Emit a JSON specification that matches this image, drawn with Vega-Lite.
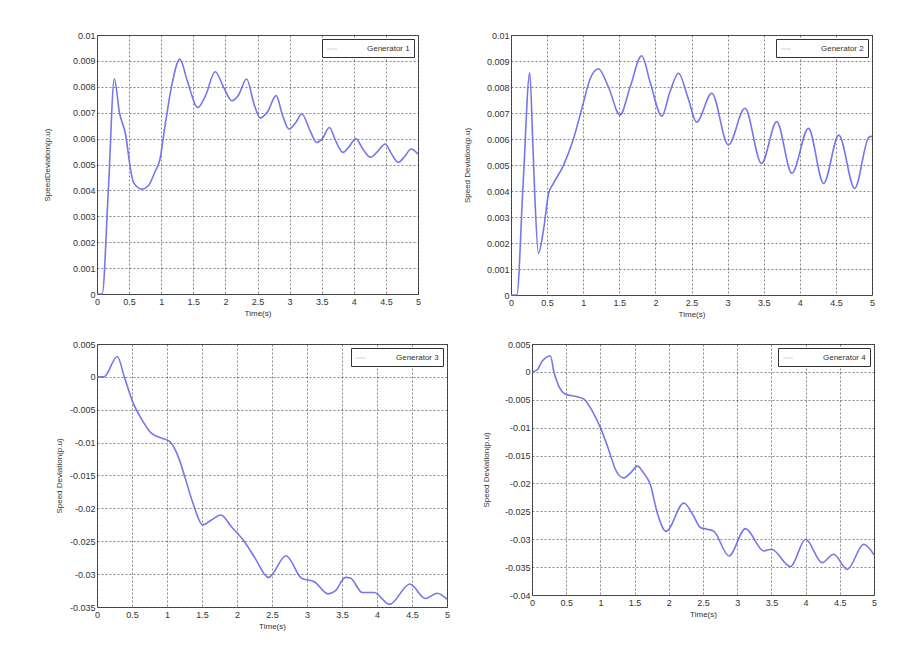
{
  "$schema": "https://vega.github.io/schema/vega-lite/v6.json",
  "background": "white",
  "padding": {"left": 43, "top": 30, "right": 0, "bottom": 0},
  "config": {
    "font": "Liberation Sans",
    "view": {"stroke": "#555", "strokeWidth": 1},
    "axis": {
      "domain": false, "ticks": false, "grid": true,
      "gridDash": [2, 2], "gridColor": "#222", "gridOpacity": 0.55, "gridWidth": 1,
      "labelFontSize": 9, "labelColor": "#333", "labelFont": "Liberation Sans",
      "titleFontSize": 8, "titleFontWeight": "normal", "titleColor": "#333", "titleFont": "Liberation Sans"
    },
    "axisX": {"labelPadding": 3, "titlePadding": 3, "labelFlush": false},
    "axisY": {"labelPadding": 2},
    "legend": {
      "orient": "top-right", "offset": 4, "fillColor": "white", "strokeColor": "#333",
      "padding": 4, "labelFontSize": 8, "labelColor": "#333", "symbolType": "stroke",
      "symbolSize": 100, "symbolStrokeWidth": 1, "labelOffset": 29, "title": null,
      "symbolOpacity": 0.2
    },
    "line": {"interpolate": "monotone", "strokeWidth": 1.6, "opacity": 0.9}
  },
  "data": {"values": [
    {"g":"Generator 1","t":0,"v":0},{"g":"Generator 1","t":0.08,"v":0},{"g":"Generator 1","t":0.18,"v":0.0042},{"g":"Generator 1","t":0.27,"v":0.0083},{"g":"Generator 1","t":0.35,"v":0.007},{"g":"Generator 1","t":0.45,"v":0.0061},{"g":"Generator 1","t":0.52,"v":0.00485},{"g":"Generator 1","t":0.57,"v":0.0043},{"g":"Generator 1","t":0.7,"v":0.00405},{"g":"Generator 1","t":0.8,"v":0.00418},{"g":"Generator 1","t":0.9,"v":0.0047},{"g":"Generator 1","t":0.98,"v":0.0052},{"g":"Generator 1","t":1.06,"v":0.0065},{"g":"Generator 1","t":1.16,"v":0.008},{"g":"Generator 1","t":1.29,"v":0.00907},{"g":"Generator 1","t":1.41,"v":0.0082},{"g":"Generator 1","t":1.57,"v":0.0072},{"g":"Generator 1","t":1.69,"v":0.00765},{"g":"Generator 1","t":1.84,"v":0.00858},{"g":"Generator 1","t":1.97,"v":0.008},{"g":"Generator 1","t":2.1,"v":0.00746},{"g":"Generator 1","t":2.2,"v":0.00766},{"g":"Generator 1","t":2.33,"v":0.0083},{"g":"Generator 1","t":2.45,"v":0.0073},{"g":"Generator 1","t":2.54,"v":0.0068},{"g":"Generator 1","t":2.66,"v":0.00705},{"g":"Generator 1","t":2.79,"v":0.00766},{"g":"Generator 1","t":2.89,"v":0.0069},{"g":"Generator 1","t":2.99,"v":0.00637},{"g":"Generator 1","t":3.09,"v":0.0066},{"g":"Generator 1","t":3.19,"v":0.00695},{"g":"Generator 1","t":3.32,"v":0.0063},{"g":"Generator 1","t":3.42,"v":0.00585},{"g":"Generator 1","t":3.51,"v":0.006},{"g":"Generator 1","t":3.62,"v":0.00643},{"g":"Generator 1","t":3.72,"v":0.0059},{"g":"Generator 1","t":3.83,"v":0.00547},{"g":"Generator 1","t":3.93,"v":0.0057},{"g":"Generator 1","t":4.03,"v":0.006},{"g":"Generator 1","t":4.14,"v":0.0056},{"g":"Generator 1","t":4.26,"v":0.00528},{"g":"Generator 1","t":4.37,"v":0.0055},{"g":"Generator 1","t":4.49,"v":0.00579},{"g":"Generator 1","t":4.59,"v":0.0054},{"g":"Generator 1","t":4.69,"v":0.00508},{"g":"Generator 1","t":4.79,"v":0.0053},{"g":"Generator 1","t":4.89,"v":0.0056},{"g":"Generator 1","t":5,"v":0.0054},
    {"g":"Generator 2","t":0,"v":0},{"g":"Generator 2","t":0.08,"v":0},{"g":"Generator 2","t":0.17,"v":0.0044},{"g":"Generator 2","t":0.26,"v":0.00855},{"g":"Generator 2","t":0.3,"v":0.006},{"g":"Generator 2","t":0.33,"v":0.0038},{"g":"Generator 2","t":0.38,"v":0.0016},{"g":"Generator 2","t":0.45,"v":0.0025},{"g":"Generator 2","t":0.52,"v":0.0039},{"g":"Generator 2","t":0.59,"v":0.0043},{"g":"Generator 2","t":0.72,"v":0.00495},{"g":"Generator 2","t":0.86,"v":0.00596},{"g":"Generator 2","t":1,"v":0.00737},{"g":"Generator 2","t":1.09,"v":0.00827},{"g":"Generator 2","t":1.21,"v":0.0087},{"g":"Generator 2","t":1.35,"v":0.008},{"g":"Generator 2","t":1.51,"v":0.00692},{"g":"Generator 2","t":1.65,"v":0.008},{"g":"Generator 2","t":1.81,"v":0.0092},{"g":"Generator 2","t":1.93,"v":0.00815},{"g":"Generator 2","t":2.09,"v":0.00688},{"g":"Generator 2","t":2.2,"v":0.0078},{"g":"Generator 2","t":2.32,"v":0.00853},{"g":"Generator 2","t":2.45,"v":0.0076},{"g":"Generator 2","t":2.57,"v":0.00665},{"g":"Generator 2","t":2.78,"v":0.00776},{"g":"Generator 2","t":3.01,"v":0.00577},{"g":"Generator 2","t":3.24,"v":0.00718},{"g":"Generator 2","t":3.47,"v":0.00506},{"g":"Generator 2","t":3.68,"v":0.00667},{"g":"Generator 2","t":3.89,"v":0.00468},{"g":"Generator 2","t":4.12,"v":0.00641},{"g":"Generator 2","t":4.33,"v":0.00429},{"g":"Generator 2","t":4.54,"v":0.00615},{"g":"Generator 2","t":4.76,"v":0.0041},{"g":"Generator 2","t":4.96,"v":0.00608},{"g":"Generator 2","t":5,"v":0.0061},
    {"g":"Generator 3","t":0,"v":0},{"g":"Generator 3","t":0.1,"v":0},{"g":"Generator 3","t":0.29,"v":0.0031},{"g":"Generator 3","t":0.39,"v":0},{"g":"Generator 3","t":0.51,"v":-0.0038},{"g":"Generator 3","t":0.63,"v":-0.0063},{"g":"Generator 3","t":0.78,"v":-0.0086},{"g":"Generator 3","t":0.92,"v":-0.0093},{"g":"Generator 3","t":1.04,"v":-0.00985},{"g":"Generator 3","t":1.17,"v":-0.0124},{"g":"Generator 3","t":1.26,"v":-0.0154},{"g":"Generator 3","t":1.38,"v":-0.0195},{"g":"Generator 3","t":1.51,"v":-0.0225},{"g":"Generator 3","t":1.63,"v":-0.0218},{"g":"Generator 3","t":1.77,"v":-0.021},{"g":"Generator 3","t":1.92,"v":-0.0228},{"g":"Generator 3","t":2.11,"v":-0.0251},{"g":"Generator 3","t":2.26,"v":-0.0276},{"g":"Generator 3","t":2.45,"v":-0.0305},{"g":"Generator 3","t":2.7,"v":-0.0272},{"g":"Generator 3","t":2.92,"v":-0.0306},{"g":"Generator 3","t":3.11,"v":-0.0312},{"g":"Generator 3","t":3.3,"v":-0.033},{"g":"Generator 3","t":3.4,"v":-0.0326},{"g":"Generator 3","t":3.55,"v":-0.0305},{"g":"Generator 3","t":3.62,"v":-0.0306},{"g":"Generator 3","t":3.79,"v":-0.0328},{"g":"Generator 3","t":3.96,"v":-0.0328},{"g":"Generator 3","t":4.18,"v":-0.0346},{"g":"Generator 3","t":4.47,"v":-0.0315},{"g":"Generator 3","t":4.69,"v":-0.0337},{"g":"Generator 3","t":4.86,"v":-0.0329},{"g":"Generator 3","t":5,"v":-0.0338},
    {"g":"Generator 4","t":0,"v":0},{"g":"Generator 4","t":0.07,"v":0.0003},{"g":"Generator 4","t":0.15,"v":0.00195},{"g":"Generator 4","t":0.27,"v":0.00285},{"g":"Generator 4","t":0.32,"v":0},{"g":"Generator 4","t":0.39,"v":-0.0025},{"g":"Generator 4","t":0.49,"v":-0.004},{"g":"Generator 4","t":0.66,"v":-0.00445},{"g":"Generator 4","t":0.76,"v":-0.0049},{"g":"Generator 4","t":0.88,"v":-0.007},{"g":"Generator 4","t":1,"v":-0.01},{"g":"Generator 4","t":1.12,"v":-0.0139},{"g":"Generator 4","t":1.22,"v":-0.0175},{"g":"Generator 4","t":1.34,"v":-0.019},{"g":"Generator 4","t":1.44,"v":-0.0181},{"g":"Generator 4","t":1.54,"v":-0.0169},{"g":"Generator 4","t":1.63,"v":-0.0181},{"g":"Generator 4","t":1.73,"v":-0.0202},{"g":"Generator 4","t":1.83,"v":-0.0252},{"g":"Generator 4","t":1.96,"v":-0.0286},{"g":"Generator 4","t":2.22,"v":-0.0235},{"g":"Generator 4","t":2.36,"v":-0.0258},{"g":"Generator 4","t":2.46,"v":-0.0279},{"g":"Generator 4","t":2.56,"v":-0.0282},{"g":"Generator 4","t":2.66,"v":-0.0286},{"g":"Generator 4","t":2.88,"v":-0.033},{"g":"Generator 4","t":3.12,"v":-0.0281},{"g":"Generator 4","t":3.39,"v":-0.0321},{"g":"Generator 4","t":3.5,"v":-0.0318},{"g":"Generator 4","t":3.78,"v":-0.0349},{"g":"Generator 4","t":4,"v":-0.03},{"g":"Generator 4","t":4.24,"v":-0.0342},{"g":"Generator 4","t":4.41,"v":-0.0327},{"g":"Generator 4","t":4.61,"v":-0.0354},{"g":"Generator 4","t":4.85,"v":-0.0309},{"g":"Generator 4","t":5,"v":-0.0328}
  ]},
  "resolve": {"scale": {"color": "independent"}, "legend": {"color": "independent"}},
  "spacing": 20,
  "vconcat": [
    {
      "resolve": {"scale": {"color": "independent"}, "legend": {"color": "independent"}},
      "spacing": 41,
      "hconcat": [
        {
          "width": 321, "height": 259,
          "transform": [{"filter": "datum.g === 'Generator 1'"}],
          "mark": {"type": "line"},
          "encoding": {
            "x": {"field": "t", "type": "quantitative", "scale": {"domain": [0, 5], "nice": false},
                  "axis": {"title": "Time(s)", "values": [0,0.5,1,1.5,2,2.5,3,3.5,4,4.5,5], "labelExpr": "datum.value + ''"}},
            "y": {"field": "v", "type": "quantitative", "scale": {"domain": [0, 0.01], "nice": false},
                  "axis": {"title": "SpeedDeviation(p.u)", "titlePadding": 20.5, "values": [0,0.001,0.002,0.003,0.004,0.005,0.006,0.007,0.008,0.009,0.01], "labelExpr": "datum.value + ''"}},
            "color": {"field": "g", "type": "nominal", "scale": {"range": ["#6767e8"]}}
          }
        },
        {
          "width": 361, "height": 260,
          "transform": [{"filter": "datum.g === 'Generator 2'"}],
          "mark": {"type": "line"},
          "encoding": {
            "x": {"field": "t", "type": "quantitative", "scale": {"domain": [0, 5], "nice": false},
                  "axis": {"title": "Time(s)", "values": [0,0.5,1,1.5,2,2.5,3,3.5,4,4.5,5], "labelExpr": "datum.value + ''"}},
            "y": {"field": "v", "type": "quantitative", "scale": {"domain": [0, 0.01], "nice": false},
                  "axis": {"title": "Speed Deviation(p.u)", "titlePadding": 14.5, "values": [0,0.001,0.002,0.003,0.004,0.005,0.006,0.007,0.008,0.009,0.01], "labelExpr": "datum.value + ''"}},
            "color": {"field": "g", "type": "nominal", "scale": {"range": ["#6767e8"]}}
          }
        }
      ]
    },
    {
      "resolve": {"scale": {"color": "independent"}, "legend": {"color": "independent"}},
      "spacing": 31,
      "hconcat": [
        {
          "width": 350, "height": 263,
          "transform": [{"filter": "datum.g === 'Generator 3'"}],
          "mark": {"type": "line"},
          "encoding": {
            "x": {"field": "t", "type": "quantitative", "scale": {"domain": [0, 5], "nice": false},
                  "axis": {"title": "Time(s)", "values": [0,0.5,1,1.5,2,2.5,3,3.5,4,4.5,5], "labelExpr": "datum.value + ''"}},
            "y": {"field": "v", "type": "quantitative", "scale": {"domain": [-0.035, 0.005], "nice": false},
                  "axis": {"title": "Speed Deviation(p.u)", "titlePadding": 5.5, "values": [-0.035,-0.03,-0.025,-0.02,-0.015,-0.01,-0.005,0,0.005], "labelExpr": "datum.value + ''"}},
            "color": {"field": "g", "type": "nominal", "scale": {"range": ["#6767e8"]}}
          }
        },
        {
          "width": 342, "height": 251,
          "transform": [{"filter": "datum.g === 'Generator 4'"}],
          "mark": {"type": "line"},
          "encoding": {
            "x": {"field": "t", "type": "quantitative", "scale": {"domain": [0, 5], "nice": false},
                  "axis": {"title": "Time(s)", "values": [0,0.5,1,1.5,2,2.5,3,3.5,4,4.5,5], "labelExpr": "datum.value + ''"}},
            "y": {"field": "v", "type": "quantitative", "scale": {"domain": [-0.04, 0.005], "nice": false},
                  "axis": {"title": "Speed Deviation(p.u)", "titlePadding": 13.5, "values": [-0.04,-0.035,-0.03,-0.025,-0.02,-0.015,-0.01,-0.005,0,0.005], "labelExpr": "datum.value + ''"}},
            "color": {"field": "g", "type": "nominal", "scale": {"range": ["#6767e8"]}}
          }
        }
      ]
    }
  ]
}
